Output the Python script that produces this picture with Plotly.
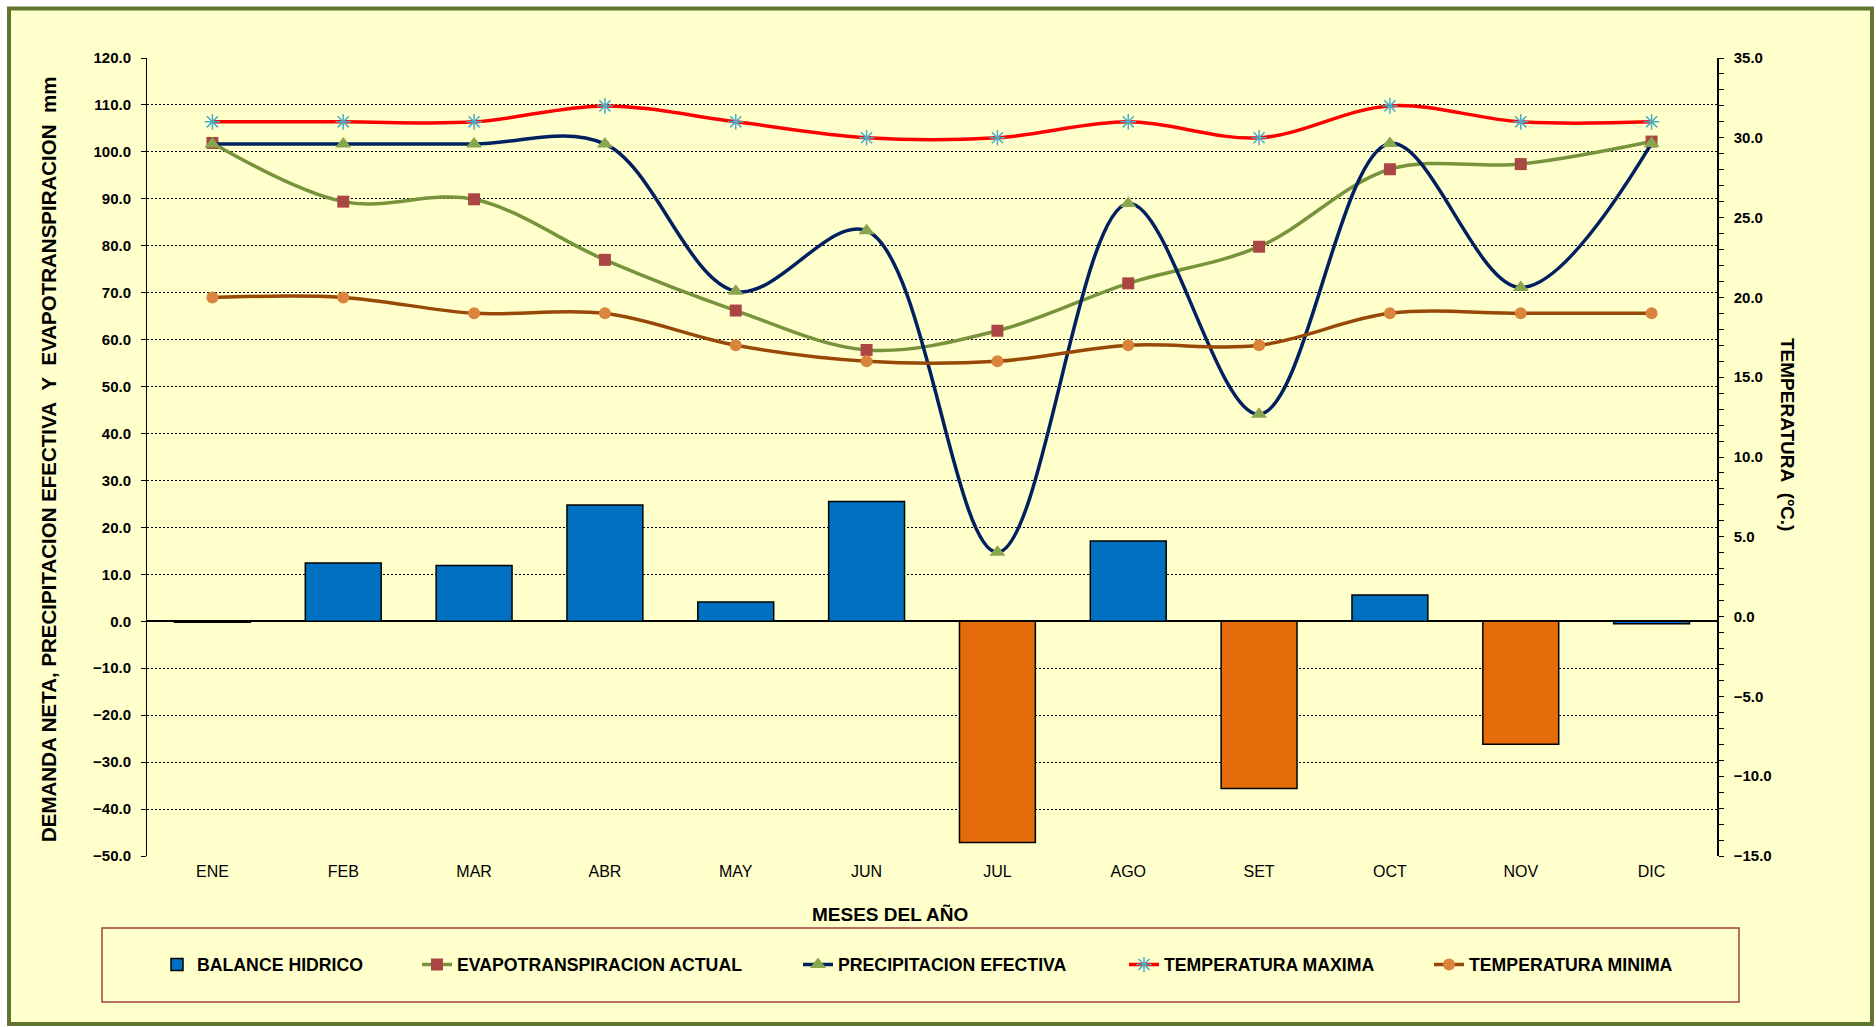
import plotly.graph_objects as go

# ---------------- data ----------------
meses = ["ENE", "FEB", "MAR", "ABR", "MAY", "JUN", "JUL", "AGO", "SET", "OCT", "NOV", "DIC"]
balance_hidrico = [-0.2, 12.4, 11.9, 24.8, 4.1, 25.5, -47.1, 17.1, -35.6, 5.6, -26.2, -0.5]
evapotranspiracion = [101.9, 89.4, 89.9, 77.0, 66.2, 57.8, 61.9, 72.0, 79.8, 96.3, 97.4, 102.2]
precipitacion = [101.7, 101.7, 101.7, 101.7, 70.3, 83.2, 14.7, 89.0, 44.1, 101.8, 71.1, 101.8]
temp_max = [31.0, 31.0, 31.0, 32.0, 31.0, 30.0, 30.0, 31.0, 30.0, 32.0, 31.0, 31.0]
temp_min = [20.0, 20.0, 19.0, 19.0, 17.0, 16.0, 16.0, 17.0, 17.0, 19.0, 19.0, 19.0]
bar_colors = ["#0070C0", "#0070C0", "#0070C0", "#0070C0", "#0070C0", "#0070C0",
              "#E46C0A", "#0070C0", "#E46C0A", "#0070C0", "#E46C0A", "#0070C0"]

FONT = "Arial, Liberation Sans, sans-serif"
W, H = 1876, 1027
L, R, T, B = 147, 159, 58, 171
PW, PH = W - L - R, H - T - B


def px_x(px):
    return (px - L) / PW


def px_y(py):
    return (H - B - py) / PH


fig = go.Figure()

fig.add_trace(go.Bar(
    x=meses, y=balance_hidrico, name="BALANCE HIDRICO",
    marker=dict(color=bar_colors, line=dict(color="#000000", width=1.5)),
    yaxis="y", legend="legend",
))

fig.add_trace(go.Scatter(
    x=meses, y=evapotranspiracion, name="EVAPOTRANSPIRACION ACTUAL",
    mode="lines+markers", line=dict(color="#77933C", width=3.5, shape="spline", smoothing=1),
    marker=dict(symbol="square", size=12, color="#AA4643"),
    yaxis="y", legend="legend2",
))

fig.add_trace(go.Scatter(
    x=meses, y=precipitacion, name="PRECIPITACION EFECTIVA",
    mode="lines+markers", line=dict(color="#002060", width=3.5, shape="spline", smoothing=1),
    marker=dict(symbol="triangle-up", size=14, color="#89A54E"),
    yaxis="y", legend="legend3",
))

fig.add_trace(go.Scatter(
    x=meses, y=temp_max, name="TEMPERATURA MAXIMA",
    mode="lines+markers", line=dict(color="#FF0000", width=3.5, shape="spline", smoothing=1),
    marker=dict(symbol="asterisk-open", size=13, color="#4BACC6", line=dict(color="#4BACC6", width=1.5)),
    yaxis="y2", legend="legend4",
))

fig.add_trace(go.Scatter(
    x=meses, y=temp_min, name="TEMPERATURA MINIMA",
    mode="lines+markers", line=dict(color="#984807", width=3.5, shape="spline", smoothing=1),
    marker=dict(symbol="circle", size=12, color="#DB843D"),
    yaxis="y2", legend="legend5",
))

legend_text_px = [197, 457, 838, 1164, 1469]
legend_common = dict(
    orientation="h", yanchor="middle", xanchor="left", y=px_y(965),
    bgcolor="rgba(0,0,0,0)", borderwidth=0,
    font=dict(family=FONT, size=17.7, color="#000000", weight="bold"),
)
legends = {}
for i, tx in enumerate(legend_text_px):
    key = "legend" if i == 0 else f"legend{i + 1}"
    legends[key] = dict(x=px_x(tx - 40), **legend_common)

fig.update_layout(
    width=W, height=H,
    margin=dict(l=L, r=R, t=T, b=B, pad=0),
    paper_bgcolor="#FFFFFF",
    plot_bgcolor="#FFFFCC",
    font=dict(family=FONT, color="#000000"),
    bargap=0.42,
    showlegend=True,
    xaxis=dict(
        type="category", range=[-0.5, 11.5],
        showgrid=False, showline=False, zeroline=False, ticks="",
        tickfont=dict(family=FONT, size=16, color="#000000"),
        ticklabelstandoff=4,
    ),
    yaxis=dict(
        range=[-50, 120], dtick=10, tick0=0, tickformat=".1f",
        showgrid=True, gridcolor="#000000", gridwidth=1, griddash="2px,2px",
        zeroline=True, zerolinecolor="#000000", zerolinewidth=2,
        showline=True, linecolor="#000000", linewidth=1,
        ticks="outside", ticklen=5, tickcolor="#000000",
        tickfont=dict(family=FONT, size=15, color="#000000", weight="bold"),
        ticklabelstandoff=7,
    ),
    yaxis2=dict(
        overlaying="y", side="right", anchor="x",
        range=[-15, 35], dtick=5, tick0=0, tickformat=".1f",
        showgrid=False, zeroline=False,
        showline=True, linecolor="#000000", linewidth=1.5,
        ticks="outside", ticklen=5, tickcolor="#000000",
        minor=dict(dtick=1, ticks="outside", ticklen=5, tickcolor="#000000"),
        tickfont=dict(family=FONT, size=15, color="#000000", weight="bold"),
        ticklabelstandoff=7,
    ),
    shapes=[
        dict(type="rect", xref="paper", yref="paper", layer="below",
             x0=px_x(9), x1=px_x(1872), y0=px_y(1024), y1=px_y(8.5),
             fillcolor="#FFFFCC", line=dict(color="#5F7530", width=4)),
        dict(type="rect", xref="paper", yref="paper", layer="below",
             x0=px_x(102), x1=px_x(1739), y0=px_y(1002), y1=px_y(928),
             fillcolor="rgba(0,0,0,0)", line=dict(color="#A0413E", width=1.5)),
    ],
    annotations=[
        dict(text="DEMANDA NETA, PRECIPITACION EFECTIVA\u00a0\u00a0Y\u00a0\u00a0EVAPOTRANSPIRACION\u00a0\u00a0mm",
             xref="paper", yref="paper", x=px_x(48), y=px_y(460), textangle=-90,
             showarrow=False, xanchor="center", yanchor="middle",
             font=dict(family=FONT, size=20.5, color="#000000", weight="bold")),
        dict(text="TEMPERATURA\u00a0\u00a0(ºC.)",
             xref="paper", yref="paper", x=px_x(1788), y=px_y(434), textangle=90,
             showarrow=False, xanchor="center", yanchor="middle",
             font=dict(family=FONT, size=19, color="#000000", weight="bold")),
        dict(text="MESES DEL AÑO",
             xref="paper", yref="paper", x=px_x(890), y=px_y(914),
             showarrow=False, xanchor="center", yanchor="middle",
             font=dict(family=FONT, size=19, color="#000000", weight="bold")),
    ],
    **legends,
)

fig.write_html(
    "out.html",
    config={"displayModeBar": False},
    post_script="document.body.style.margin='0';document.body.style.overflow='hidden';",
)
